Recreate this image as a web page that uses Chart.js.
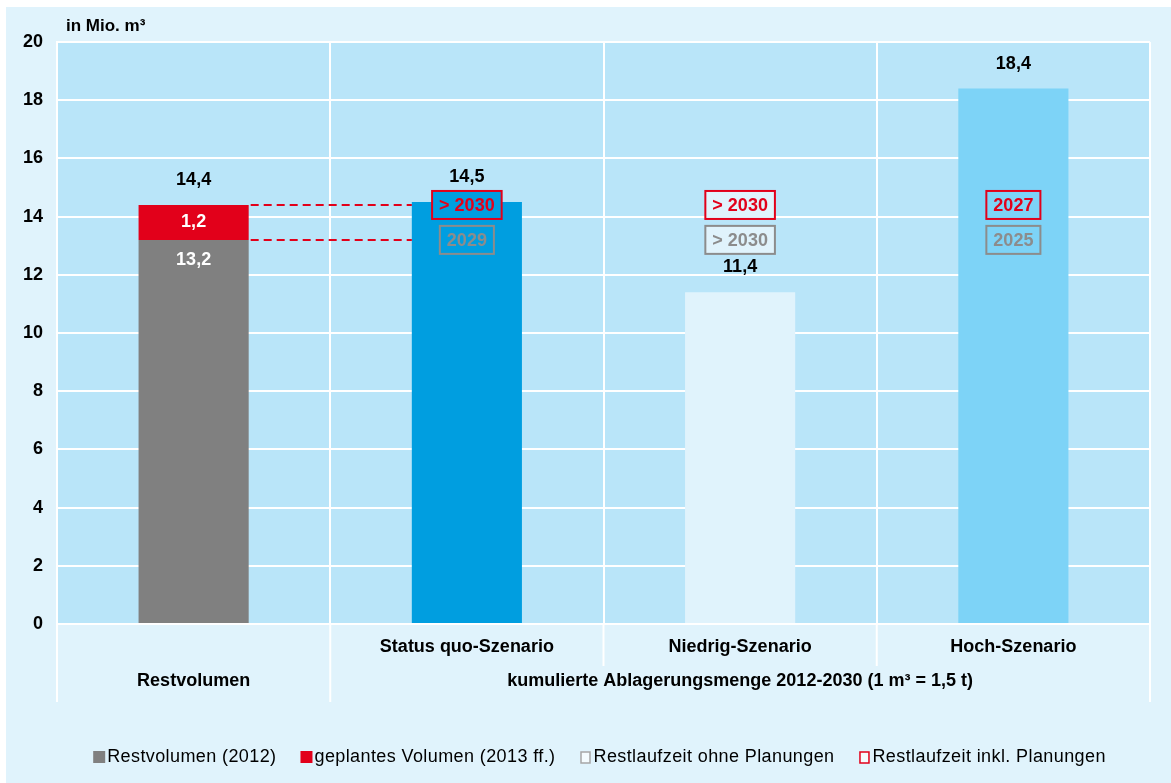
<!DOCTYPE html>
<html lang="de">
<head>
<meta charset="utf-8">
<title>Restvolumen und kumulierte Ablagerungsmenge</title>
<script src="https://cdn.jsdelivr.net/npm/chart.js@4"></script>
<style>
  html, body { margin: 0; padding: 0; background: #fff; }
  #wrap { position: absolute; left: 6px; top: 7px; width: 1165px; height: 776px; background: #e0f3fc; }
</style>
</head>
<body>
<div id="wrap"><canvas id="chart"></canvas></div>
<script>
// Daten
const CATEGORIES = ['', 'Status quo-Szenario', 'Niedrig-Szenario', 'Hoch-Szenario'];
const GROUPS = ['Restvolumen', 'kumulierte Ablagerungsmenge 2012-2030 (1 m³ = 1,5 t)'];
const GROUP_SPANS = [[0, 0], [1, 3]];          // erste / letzte Kategorie je Gruppe
const REST_2012 = [13.2, null, null, null];
const GEPLANT = [1.2, null, null, null];
const SZENARIO = [null, 14.5, 11.4, 18.4];
const LAUFZEIT_INKL = [null, '> 2030', '> 2030', '2027'];   // Restlaufzeit inkl. Planungen
const LAUFZEIT_OHNE = [null, '2029', '> 2030', '2025'];     // Restlaufzeit ohne Planungen
const LEGEND_LABELS = ['Restvolumen (2012)', 'geplantes Volumen (2013 ff.)',
                       'Restlaufzeit ohne Planungen', 'Restlaufzeit inkl. Planungen'];
const UNIT = 'in Mio. m³';

// Farben
const GRAY = '#808080';
const RED = '#e2001a';
const BOX_GRAY = '#8c8c8c';
const PLOT_BG = '#b9e5f9';
const SZENARIO_COLORS = [null, '#009ee0', '#e0f3fc', '#7dd3f7'];

const FONT = "'Liberation Sans', Arial, sans-serif";
const BOLD = 'bold 18px ' + FONT;

const fmt = v => v.toFixed(1).replace('.', ',');

function text(ctx, str, x, y, color, align) {
  ctx.fillStyle = color;
  ctx.textAlign = align || 'center';
  ctx.textBaseline = 'middle';
  ctx.fillText(str, x, y);
}

// Hintergrund der Zeichenfläche
const plotBackground = {
  id: 'plotBackground',
  beforeDraw(chart) {
    const { ctx, chartArea: a } = chart;
    ctx.save();
    ctx.fillStyle = PLOT_BG;
    ctx.fillRect(a.left, a.top, a.right - a.left, a.bottom - a.top);
    ctx.restore();
  },
};

// Beschriftungen, Laufzeit-Kästchen, gestrichelte Linien
const annotations = {
  id: 'annotations',
  afterDatasetsDraw(chart) {
    const { ctx } = chart;
    const y = chart.scales.y;
    const gray = chart.getDatasetMeta(0).data[0];
    const red = chart.getDatasetMeta(1).data[0];
    const szen = chart.getDatasetMeta(2).data;
    const restTotal = REST_2012[0] + GEPLANT[0];

    ctx.save();
    // gestrichelte Linien vom Restvolumen zum Status quo-Balken
    ctx.strokeStyle = RED;
    ctx.lineWidth = 2;
    ctx.setLineDash([8, 5]);
    [restTotal, REST_2012[0]].forEach(v => {
      const py = Math.round(y.getPixelForValue(v));
      ctx.beginPath();
      ctx.moveTo(gray.x + gray.width / 2 + 2, py);
      ctx.lineTo(szen[1].x - szen[1].width / 2, py);
      ctx.stroke();
    });
    ctx.setLineDash([]);

    ctx.font = BOLD;
    text(ctx, fmt(restTotal), red.x, red.y - 25, '#000');
    text(ctx, fmt(GEPLANT[0]), red.x, (red.y + red.base) / 2, '#fff');
    text(ctx, fmt(REST_2012[0]), gray.x, gray.y + 20, '#fff');

    SZENARIO.forEach((v, i) => {
      if (v == null) return;
      const el = szen[i];
      text(ctx, fmt(v), el.x, el.y - 25, '#000');

      const rows = [[LAUFZEIT_INKL[i], RED, restTotal], [LAUFZEIT_OHNE[i], BOX_GRAY, REST_2012[0]]];
      rows.forEach(([label, color, level]) => {
        const cy = y.getPixelForValue(level);
        const w = ctx.measureText(label).width + 14;
        const h = 28;
        ctx.fillStyle = SZENARIO_COLORS[i];
        ctx.fillRect(el.x - w / 2, cy - h / 2, w, h);
        ctx.strokeStyle = color;
        ctx.lineWidth = 2;
        ctx.strokeRect(el.x - w / 2, cy - h / 2, w, h);
        text(ctx, label, el.x, cy + 1, color);
      });
    });
    ctx.restore();
  },
  afterDraw(chart) {
    const { ctx, chartArea: a } = chart;
    const x = chart.scales.x;
    const catW = (x.right - x.left) / CATEGORIES.length;
    const groupEdges = new Set();
    GROUP_SPANS.forEach(([s, e]) => { groupEdges.add(s); groupEdges.add(e + 1); });

    ctx.save();
    // Trennlinien unterhalb der Achse
    ctx.strokeStyle = '#fff';
    ctx.lineWidth = 2;
    for (let k = 0; k <= CATEGORIES.length; k++) {
      const px = x.left + k * catW;
      ctx.beginPath();
      ctx.moveTo(px, a.bottom);
      ctx.lineTo(px, a.bottom + (groupEdges.has(k) ? 78 : 42));
      ctx.stroke();
    }

    // Gruppenbeschriftung
    ctx.font = BOLD;
    GROUPS.forEach((g, i) => {
      const [s, e] = GROUP_SPANS[i];
      const cx = x.left + (s + e + 1) / 2 * catW;
      text(ctx, g, cx, a.bottom + 57, '#000');
    });

    // Einheit
    ctx.font = 'bold 17px ' + FONT;
    text(ctx, UNIT, a.left + 9, a.top - 16, '#000', 'left');

    // Legende
    ctx.font = '18px ' + FONT;
    ctx.letterSpacing = '0.4px';
    const boxW = 12, boxH = 12, gap = 24;
    const widths = LEGEND_LABELS.map(l => boxW + 2 + ctx.measureText(l).width);
    const total = widths.reduce((s, w) => s + w, 0) + gap * (widths.length - 1);
    let lx = (a.left + a.right) / 2 - total / 2 - 4;
    const ly = 750;
    const styles = [
      { fill: GRAY }, { fill: RED },
      { stroke: '#a6a6a6' }, { stroke: RED },
    ];
    LEGEND_LABELS.forEach((label, i) => {
      const st = styles[i];
      if (st.fill) {
        ctx.fillStyle = st.fill;
        ctx.fillRect(lx, ly - boxH / 2, boxW, boxH);
      } else {
        ctx.fillStyle = '#f4fbfe';
        ctx.fillRect(lx + 1.5, ly - 5, 9, 11);
        ctx.strokeStyle = st.stroke;
        ctx.lineWidth = 1.5;
        ctx.strokeRect(lx + 1.5, ly - 5, 9, 11);
      }
      text(ctx, label, lx + boxW + 2, ly, '#000', 'left');
      lx += widths[i] + gap;
    });
    ctx.restore();
  },
};

new Chart(document.getElementById('chart').getContext('2d'), {
  type: 'bar',
  data: {
    labels: CATEGORIES,
    datasets: [
      { label: LEGEND_LABELS[0], data: REST_2012, backgroundColor: GRAY },
      { label: LEGEND_LABELS[1], data: GEPLANT, backgroundColor: RED },
      { label: 'Szenarien', data: SZENARIO, backgroundColor: SZENARIO_COLORS },
    ],
  },
  options: {
    responsive: true,
    maintainAspectRatio: false,
    animation: false,
    layout: { padding: { top: 35, right: 21, bottom: 0, left: 0 } },
    datasets: { bar: { categoryPercentage: 1, barPercentage: 0.403 } },
    scales: {
      x: {
        stacked: true,
        grid: { color: '#fff', lineWidth: 2, drawTicks: false, offset: true },
        border: { color: '#fff', width: 2 },
        ticks: {
          color: '#000',
          font: { family: FONT, size: 18, weight: 'bold' },
          padding: 12,
          maxRotation: 0,
          autoSkip: false,
        },
        afterFit: s => { s.height = 159; },
      },
      y: {
        stacked: true,
        min: 0,
        max: 20,
        grid: { color: '#fff', lineWidth: 2, drawTicks: false },
        border: { color: '#fff', width: 2 },
        ticks: {
          stepSize: 2,
          color: '#000',
          font: { family: FONT, size: 18, weight: 'bold' },
          padding: 14,
        },
        afterFit: s => { s.width = 51; },
      },
    },
    plugins: {
      legend: { display: false },
      tooltip: { enabled: false },
    },
  },
  plugins: [plotBackground, annotations],
});
</script>
</body>
</html>
